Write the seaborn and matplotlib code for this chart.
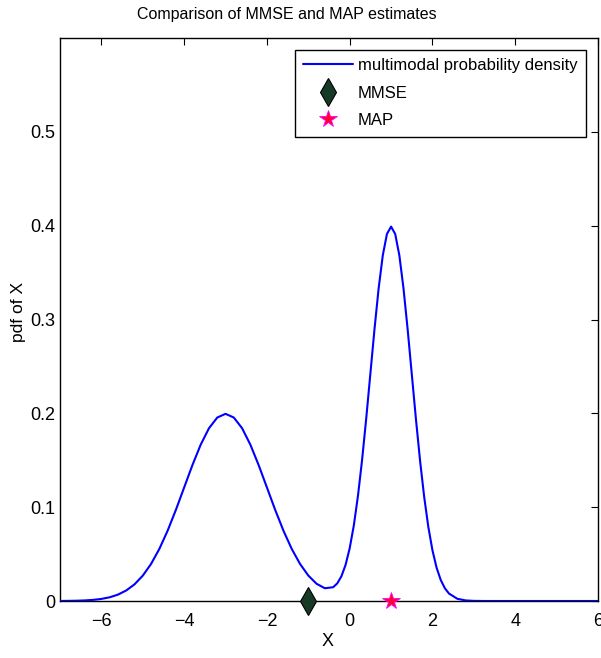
import matplotlib
matplotlib.use("Agg")
import matplotlib.pyplot as plt
import seaborn as sns
import pandas as pd

# ---- data ----
x_vals = [-7.0, -6.8, -6.6, -6.4, -6.2, -6.0, -5.8, -5.6, -5.4, -5.2,
          -5.0, -4.8, -4.6, -4.4, -4.2, -4.0, -3.8, -3.6, -3.4, -3.2,
          -3.0, -2.8, -2.6, -2.4, -2.2, -2.0, -1.8, -1.6, -1.4, -1.2,
          -1.0, -0.8, -0.6, -0.4, -0.3, -0.2, -0.1, 0.0, 0.1, 0.2,
          0.3, 0.4, 0.5, 0.6, 0.7, 0.8, 0.9, 1.0, 1.1, 1.2,
          1.3, 1.4, 1.5, 1.6, 1.7, 1.8, 1.9, 2.0, 2.1, 2.2,
          2.3, 2.4, 2.6, 2.8, 3.0, 3.2, 3.4, 4.0, 5.0, 6.0]
pdf_vals = [0.00007, 0.00015, 0.00031, 0.00062, 0.00119, 0.00222, 0.00396, 0.00679, 0.01120, 0.01774,
            0.02700, 0.03948, 0.05546, 0.07486, 0.09709, 0.12098, 0.14485, 0.16661, 0.18413, 0.19552,
            0.19947, 0.19552, 0.18413, 0.16661, 0.14485, 0.12098, 0.09709, 0.07486, 0.05546, 0.03951,
            0.02713, 0.01835, 0.01358, 0.01470, 0.01879, 0.02635, 0.03845, 0.05621, 0.08058, 0.11211,
            0.15059, 0.19480, 0.24241, 0.29000, 0.33343, 0.36842, 0.39114, 0.39901, 0.39108, 0.36830,
            0.33324, 0.28970, 0.24198, 0.19418, 0.14973, 0.11092, 0.07895, 0.05399, 0.03547, 0.02239,
            0.01358, 0.00791, 0.00238, 0.00061, 0.00013, 0.00003, 0.0, 0.0, 0.0, 0.0]

mmse_x = [-1.0]
mmse_y = [0.0]
map_x = [1.0]
map_y = [0.0]

title = "Comparison of MMSE and MAP estimates"
xlabel = "X"
ylabel = "pdf of X"
labels = ["multimodal probability density", "MMSE", "MAP"]
xticks = [-6, -4, -2, 0, 2, 4, 6]
yticks = [0, 0.1, 0.2, 0.3, 0.4, 0.5]
ytick_labels = ["0", "0.1", "0.2", "0.3", "0.4", "0.5"]

sns.set_theme(style="white")
plt.rcParams["font.family"] = ["Liberation Sans", "DejaVu Sans"]
plt.rcParams["axes.unicode_minus"] = True
plt.rcParams["text.color"] = "black"
plt.rcParams["axes.labelcolor"] = "black"
plt.rcParams["xtick.color"] = "black"
plt.rcParams["ytick.color"] = "black"

fig = plt.figure(figsize=(6.01, 6.58), dpi=100)
ax = fig.add_axes([60 / 601, 1 - 601 / 658, 538 / 601, (601 - 38) / 658])

df = pd.DataFrame({"x": x_vals, "pdf": pdf_vals})
sns.lineplot(data=df, x="x", y="pdf", ax=ax, color="#0000ff", linewidth=1.5,
             label=labels[0], sort=False, zorder=3)

ax.plot(mmse_x, mmse_y, linestyle="none", marker="d", markersize=14.3,
        markerfacecolor="#173a26", markeredgecolor="black", markeredgewidth=0.8,
        label=labels[1], clip_on=False, zorder=5)
ax.plot(map_x, map_y, linestyle="none", marker="*", markersize=13,
        markerfacecolor="#ff0030", markeredgecolor="#ff00ff", markeredgewidth=0.6,
        label=labels[2], clip_on=False, zorder=6)

ax.set_xlim(-7, 6)
ax.set_ylim(0, 0.6)
ax.set_xticks(xticks)
ax.set_xticklabels([f"{t}".replace("-", "\u2212") for t in xticks])
ax.set_yticks(yticks)
ax.set_yticklabels(ytick_labels)
ax.tick_params(axis="both", which="both", direction="in", length=5, width=0.8,
               top=True, right=True, labelsize=13, color="black", labelcolor="black")
ax.tick_params(axis="x", pad=9)
ax.tick_params(axis="y", pad=3.5)
for sp in ax.spines.values():
    sp.set_color("black")
    sp.set_linewidth(1.0)

ax.set_title(title, fontsize=11.5, pad=14, x=0.422, color="black")
ax.set_xlabel(xlabel, fontsize=13, color="black")
ax.set_ylabel(ylabel, fontsize=12.5, color="black")
ax.xaxis.set_label_coords(0.498, -0.056)
ax.yaxis.set_label_coords(-0.063, 0.513)

leg = ax.legend(loc="upper right", bbox_to_anchor=(1 - 12 / 538, 1 - 12 / 563),
                frameon=True, fancybox=False, shadow=False, fontsize=12,
                handlelength=3.0, borderaxespad=0, borderpad=0.5,
                labelspacing=0.75, handletextpad=0.3)
leg.get_frame().set_edgecolor("black")
leg.get_frame().set_linewidth(1.0)
leg.get_frame().set_alpha(1)
for t in leg.get_texts():
    t.set_color("black")

fig.savefig("out.png", dpi=100)
